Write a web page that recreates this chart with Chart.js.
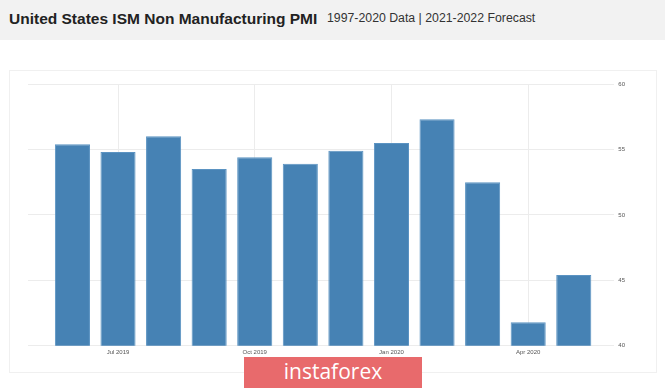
<!DOCTYPE html>
<html>
<head>
<meta charset="utf-8">
<script src="https://cdn.jsdelivr.net/npm/chart.js@4"></script>
<style>
  html, body { margin: 0; padding: 0; background: #fff; }
  body { width: 665px; height: 388px; position: relative; overflow: hidden; font-family: "Liberation Sans", Arial, sans-serif; }
  .header { position: absolute; left: 0; top: 0; width: 665px; height: 40px; background: #f2f2f2; }
  .title { position: absolute; left: 9px; top: 10px; font-size: 15.5px; font-weight: bold; color: #222; white-space: nowrap; }
  .sub { position: absolute; left: 327px; top: 11px; font-size: 12.3px; color: #333; white-space: nowrap; }
  .panel { position: absolute; left: 9px; top: 70px; width: 646px; height: 301px; border: 1px solid #f0f0f0; }
  .wrap { position: absolute; left: 0; top: 0; width: 665px; height: 388px; }
  .logo { position: absolute; left: 244px; top: 357px; width: 178px; height: 31px; background: #e86a6c; color: #fff; font-family: "Open Sans", sans-serif; font-size: 21px; text-align: center; line-height: 29px; }
</style>
</head>
<body>
<div class="header">
  <div class="title">United States ISM Non Manufacturing PMI</div>
  <div class="sub">1997-2020 Data | 2021-2022 Forecast</div>
</div>
<div class="panel"></div>
<div class="wrap"><canvas id="chartPmi" width="665" height="388"></canvas></div>
<div class="logo">instaforex</div>
<script>
// Số liệu: Jun 2019 -> May 2020
const months = ['Jun 2019', 'Jul 2019', 'Aug 2019', 'Sep 2019', 'Oct 2019', 'Nov 2019',
                'Dec 2019', 'Jan 2020', 'Feb 2020', 'Mar 2020', 'Apr 2020', 'May 2020'];
const pmiValues = [55.4, 54.8, 56.0, 53.5, 54.4, 53.9, 54.9, 55.5, 57.3, 52.5, 41.8, 45.4];
const shownLabels = ['Jul 2019', 'Oct 2019', 'Jan 2020', 'Apr 2020'];
const yTicks = [40, 45, 50, 55, 60];

document.addEventListener("DOMContentLoaded", function () {
    const ctx = document.getElementById('chartPmi').getContext('2d');
    const labelIdx = shownLabels.map(m => months.indexOf(m));

    new Chart(ctx, {
        type: 'bar',
        data: {
            datasets: [{
                label: 'PMI',
                data: pmiValues.map((v, i) => ({ x: i, y: v })),
                backgroundColor: '#4682b4',
                borderColor: '#5b93c2',
                borderWidth: 1,
                barPercentage: 0.77,
                categoryPercentage: 1.0
            }]
        },
        options: {
            responsive: false,
            animation: false,
            layout: { padding: { left: 28, top: 84, right: 36, bottom: 29 } },
            plugins: { legend: { display: false }, tooltip: { enabled: false } },
            scales: {
                x: {
                    type: 'linear',
                    bounds: 'data',
                    offset: false,
                    min: -0.975,
                    max: 11.89,
                    afterBuildTicks: (axis) => { axis.ticks = labelIdx.map(v => ({ value: v })); },
                    ticks: {
                        autoSkip: false,
                        maxRotation: 0,
                        padding: 3,
                        color: '#555',
                        font: { size: 6, family: 'Liberation Sans' },
                        callback: (v) => months[v]
                    },
                    grid: { color: '#ececec', drawTicks: false, offset: false },
                    border: { display: false }
                },
                y: {
                    position: 'right',
                    min: 40,
                    max: 60,
                    afterBuildTicks: (axis) => { axis.ticks = yTicks.map(v => ({ value: v })); },
                    ticks: {
                        padding: 4,
                        color: '#555',
                        font: { size: 6, family: 'Liberation Sans' }
                    },
                    grid: { color: '#ececec', drawTicks: false },
                    border: { display: false }
                }
            }
        }
    });
});
</script>
</body>
</html>
